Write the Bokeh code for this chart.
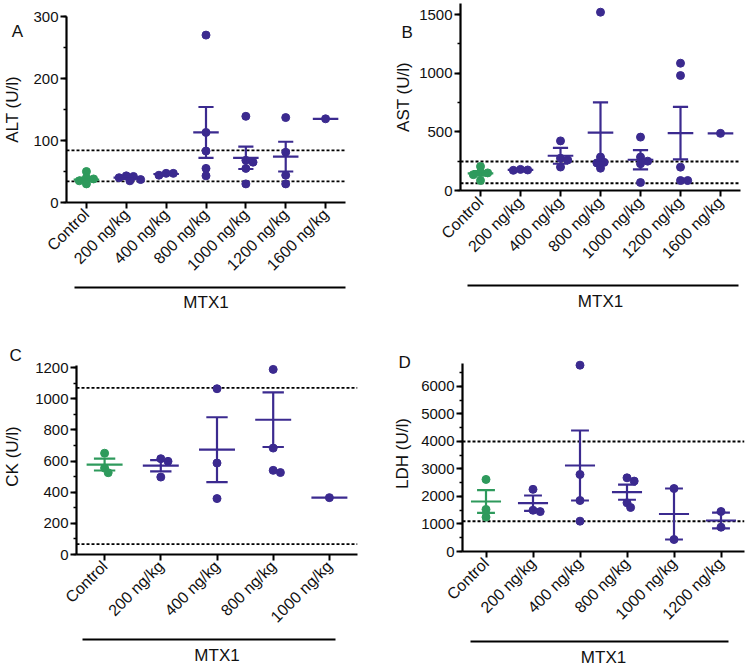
import numpy as np
from bokeh.plotting import figure
from bokeh.models import Range1d, FixedTicker, SingleIntervalTicker, LinearAxis, Span, Label, Title
from bokeh.layouts import column, row
from bokeh.embed import file_html
from bokeh.resources import INLINE

# ---------------- data ----------------
alt_groups = ["Control", "200 ng/kg", "400 ng/kg", "800 ng/kg", "1000 ng/kg", "1200 ng/kg", "1600 ng/kg"]
alt_points = [[50, 40, 38, 35, 30], [43, 42, 40, 37, 35], [47, 47, 44], [270, 113, 83, 55, 43],
              [139, 68, 65, 55, 30], [137, 81, 44, 30], [135]]
alt_mean = [37, 40, 46, 113, 72, 74, 135]
alt_sem = [3, 2, 1, 41, 18, 24, 0]
alt_ref = [84, 34]

ast_groups = ["Control", "200 ng/kg", "400 ng/kg", "800 ng/kg", "1000 ng/kg", "1200 ng/kg", "1600 ng/kg"]
ast_points = [[205, 155, 150, 135, 85], [180, 175, 172], [423, 275, 260, 200], [1520, 285, 240, 235, 190],
              [455, 285, 250, 228, 68], [1085, 980, 199, 85, 85], [487]]
ast_mean = [146, 176, 296, 494, 262, 489, 487]
ast_sem = [20, 3, 68, 258, 82, 223, 0]
ast_ref = [247, 62]

ck_groups = ["Control", "200 ng/kg", "400 ng/kg", "800 ng/kg", "1000 ng/kg"]
ck_points = [[650, 555, 525], [615, 598, 497], [1064, 587, 359], [1188, 683, 540, 526], [365]]
ck_mean = [577, 570, 673, 865, 365]
ck_sem = [38, 36, 208, 175, 0]
ck_ref = [1070, 66]

ldh_groups = ["Control", "200 ng/kg", "400 ng/kg", "800 ng/kg", "1000 ng/kg", "1200 ng/kg"]
ldh_points = [[2620, 1530, 1250], [2260, 1500, 1450], [6775, 2800, 1855, 1103], [2680, 2560, 1770, 1600],
              [2290, 436], [1455, 884]]
ldh_mean = [1818, 1758, 3127, 2157, 1363, 1127]
ldh_sem = [412, 278, 1272, 275, 927, 286]
ldh_ref = [4000, 1100]

group_label = "MTX1"

# ---------------- style ----------------
FONT = "Liberation Sans"
GREEN = "#2e9a5c"
PURPLE = "#3b2a8f"
INK = "#111111"


def swarm(vals, ypx, xpx, r=4.0):
    placed, offs = [], []
    cands = [0.0]
    for j in range(1, 14):
        cands += [j * 0.9 * r, -j * 0.9 * r]
    for v in vals:
        y = v * ypx
        chosen = cands[-1]
        for c in cands:
            if all((c - px) ** 2 + (y - py) ** 2 >= (1.4 * r) ** 2 for px, py in placed):
                chosen = c
                break
        placed.append((chosen, y))
        offs.append(chosen / xpx)
    return offs


def make_panel(letter, ylabel, groups, points, means, sems, refs, ymax, ytop, ystep,
               width, height, bl, br, bt, bb, bounds, ylab_standoff,
               gap, xl_standoff, mtx_offset, mtx_standoff, letter_pos, letter_side):
    n = len(groups)
    fw = width - bl - br
    fh = height - bt - bb
    p = figure(width=width, height=height, x_range=Range1d(-0.5, n - 0.5), y_range=Range1d(0, ymax),
               output_backend="svg", toolbar_location=None,
               min_border_left=bl, min_border_right=br, min_border_top=bt, min_border_bottom=bb)
    if "frame_align" in p.properties():
        p.frame_align = False
    p.outline_line_color = None
    p.xgrid.visible = False
    p.ygrid.visible = False

    for v in refs:
        p.add_layout(Span(location=v, dimension="width", line_color="black",
                          line_dash="3 2", line_width=1.8, level="underlay"))

    ypx = fh / ymax
    xpx = fw / n
    for i, (vals, m, s) in enumerate(zip(points, means, sems)):
        col = GREEN if i == 0 else PURPLE
        offs = swarm(vals, ypx, xpx)
        p.scatter([i + o for o in offs], vals, size=8, color=col)
        p.segment([i - 0.32], [m], [i + 0.32], [m], line_color=col, line_width=2.2)
        if s > 0:
            p.segment([i, i - 0.19, i - 0.19], [m - s, m + s, m - s],
                      [i, i + 0.19, i + 0.19], [m + s, m + s, m - s],
                      line_color=col, line_width=2.2)

    ya = p.yaxis[0]
    ya.ticker = SingleIntervalTicker(interval=ystep, num_minor_ticks=2)
    ya.bounds = (0, ytop)
    ya.axis_label = ylabel
    ya.axis_label_standoff = ylab_standoff
    ya.axis_label_text_font = FONT
    ya.axis_label_text_font_size = "17px"
    ya.axis_label_text_font_style = "normal"
    ya.axis_label_text_color = INK
    ya.major_label_text_font = FONT
    ya.major_label_text_font_size = "15px"
    ya.major_label_text_color = INK
    ya.major_label_standoff = 2
    ya.axis_line_width = 2.2
    ya.axis_line_color = "black"
    ya.major_tick_line_width = 2
    ya.minor_tick_line_width = 1.6
    ya.major_tick_out = 6
    ya.major_tick_in = 0
    ya.minor_tick_out = 3
    ya.minor_tick_in = 0

    xa = p.xaxis[0]
    xa.ticker = FixedTicker(ticks=list(range(n)))
    xa.major_label_overrides = {i: g for i, g in enumerate(groups)}
    xa.major_label_orientation = np.pi / 4
    xa.major_label_text_font = FONT
    xa.major_label_text_font_size = "16px"
    xa.major_label_text_color = INK
    xa.major_label_standoff = xl_standoff
    xa.axis_line_width = 2.2
    xa.axis_line_color = "black"
    xa.major_tick_line_width = 2
    xa.major_tick_out = 6
    xa.major_tick_in = 0
    xa.minor_tick_out = 0
    xa.minor_tick_in = 0
    if gap is not None:
        xa.axis_label = " "
        xa.axis_label_text_font_size = "1px"
        xa.axis_label_standoff = gap

    # bracket line under the dose groups
    p.extra_x_ranges = {"br": Range1d(-0.5, n - 0.5)}
    bax = LinearAxis(x_range_name="br", bounds=bounds, ticker=FixedTicker(ticks=[]),
                     axis_line_width=2.2, axis_line_color="black",
                     major_tick_out=0, major_tick_in=0, minor_tick_out=0, minor_tick_in=0,
                     major_label_standoff=0, major_label_text_font_size="0px")
    p.add_layout(bax, "below")
    p.add_layout(Title(text=group_label, align="center", offset=mtx_offset, standoff=mtx_standoff,
                       text_font=FONT, text_font_size="17px", text_font_style="normal",
                       text_color=INK), "below")

    # panel letter (kept in a side panel that has room so it is not clipped)
    p.add_layout(Label(x=letter_pos[0], y=letter_pos[1], text=letter, text_font=FONT,
                       text_font_size="17px", text_color=INK), letter_side)
    return p


H1 = 320
pA = make_panel("A", "ALT (U/l)", alt_groups, alt_points, alt_mean, alt_sem, alt_ref, 300, 300, 100,
                365, H1, 65, 20, 16, H1 - 202, (-0.3, 6.5), 8, 1, 3, -4, 6,
                (-1.875, 259.7), "right")
pB = make_panel("B", "AST (U/l)", ast_groups, ast_points, ast_mean, ast_sem, ast_ref, 1594, 1594, 500,
                381, H1, 95, 6, 3, H1 - 190, (-0.32, 6.45), 3, 11, 3, 21, 8,
                (-1.975, 1270), "left")
pC = make_panel("C", "CK (U/l)", ck_groups, ck_points, ck_mean, ck_sem, ck_ref, 1258, 1213, 200,
                365, 670 - H1, 76, 8, 358 - H1, 116, (-0.4, 4.11), 10, 1, 3, -4, 8,
                (-1.69, 1219), "above")
pD = make_panel("D", "LDH (U/l)", ldh_groups, ldh_points, ldh_mean, ldh_sem, ldh_ref, 7127, 6836, 1000,
                381, 670 - H1, 97, 2, 355 - H1, 119, (-0.33, 5.15), 6, 6, 3, -15, 8,
                (-1.86, 6545), "above")

layout = column(row(pA, pB), row(pC, pD))
open("out.html", "w").write(file_html(layout, INLINE))
